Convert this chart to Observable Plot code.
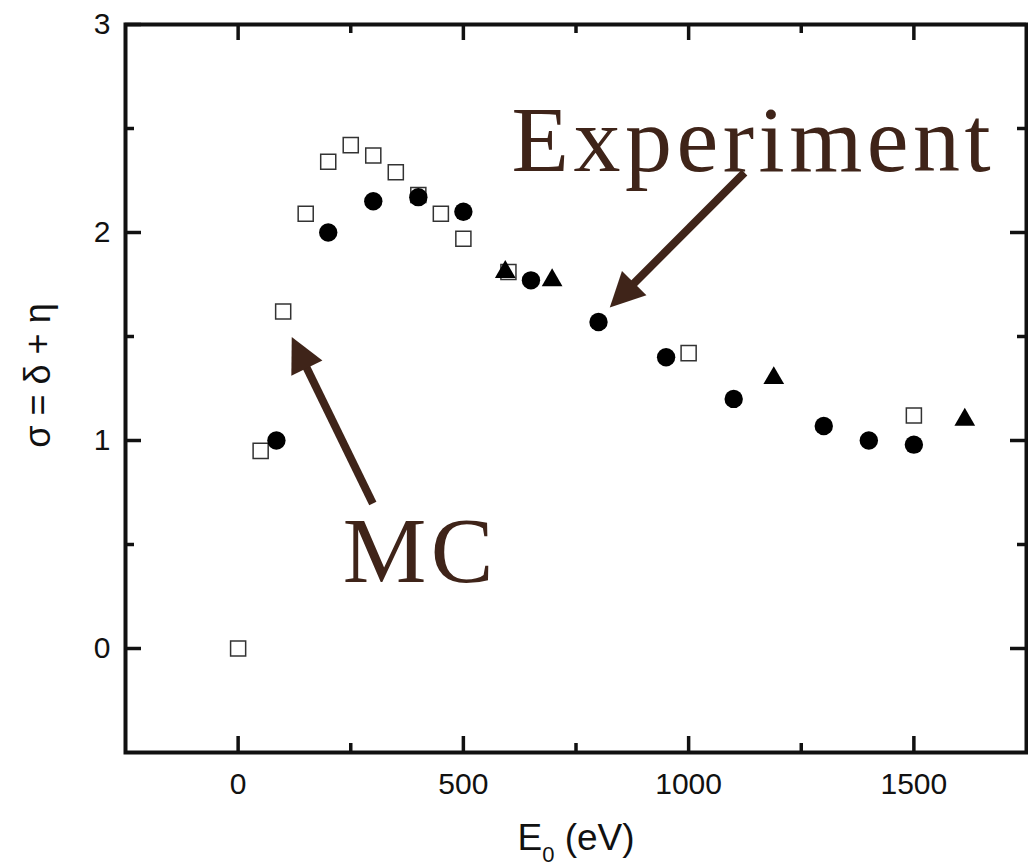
<!DOCTYPE html>
<html><head><meta charset="utf-8">
<script src="https://cdn.jsdelivr.net/npm/d3@7"></script>
<script src="https://cdn.jsdelivr.net/npm/@observablehq/plot@0.6"></script>
<style>body{margin:0;background:#fff}</style>
</head><body><div id="chart"></div>
<script>
// ---- data ----
const energyMC = [0, 50, 100, 150, 200, 250, 300, 350, 400, 450, 500, 600, 1000, 1500];
const sigmaMC  = [0, 0.95, 1.62, 2.09, 2.34, 2.42, 2.37, 2.29, 2.18, 2.09, 1.97, 1.81, 1.42, 1.12];
const energyExp = [85, 200, 300, 400, 500, 650, 800, 950, 1100, 1300, 1400, 1500];
const sigmaExp  = [1.00, 2.00, 2.15, 2.17, 2.10, 1.77, 1.57, 1.40, 1.20, 1.07, 1.00, 0.98];
const energyTri = [593, 697, 1189, 1613];
const sigmaTri  = [1.81, 1.77, 1.30, 1.10];

const xMajorTicks = [0, 500, 1000, 1500];
const xMinorTicks = [250, 750, 1250];
const yMajorTicks = [0, 1, 2, 3];
const yMinorTicks = [0.5, 1.5, 2.5];
const xLabel = "E0 (eV)";
const yLabel = "σ = δ + η";

const annotationText = ["Experiment", "MC"];
const annotationX = [607, 232];
const annotationY = [2.298, 0.322];
const arrowFromX = [1124, 299];
const arrowFromY = [2.288, 0.697];
const arrowToX = [825, 119];
const arrowToY = [1.639, 1.497];

// ---- layout ----
const W = 1028, H = 868, mL = 125, mR = 2, mT = 24, mB = 116;
const xDomain = [-250, 1750], yDomain = [-0.5, 3];
const innerW = W - mL - mR, innerH = H - mT - mB;
const brown = "#3f2419";
const ink = "#111";

const mc = energyMC.map((x, i) => ({x, y: sigmaMC[i]}));
const exp = energyExp.map((x, i) => ({x, y: sigmaExp[i]}));
const tri = energyTri.map((x, i) => ({x, y: sigmaTri[i]}));
const notes = annotationText.map((t, i) => ({t, x: annotationX[i], y: annotationY[i]}));

const sx = d3.scaleLinear(xDomain, [mL, W - mR]);
const sy = d3.scaleLinear(yDomain, [H - mB, mT]);
const arrows = arrowFromX.map((_, i) => {
  const a = {x1: arrowFromX[i], y1: arrowFromY[i], x2: arrowToX[i], y2: arrowToY[i]};
  a.rot = Math.atan2(sy(a.y2) - sy(a.y1), sx(a.x2) - sx(a.x1)) * 180 / Math.PI + 90;
  return a;
});

// filled arrow head, apex at the origin pointing up
const headSymbol = {
  draw(ctx, size) {
    const L = Math.sqrt(size);
    ctx.moveTo(0, 0);
    ctx.lineTo(-0.5 * L, L);
    ctx.lineTo(0.5 * L, L);
    ctx.closePath();
  }
};

const major = 16, minor = 9;
const plot = Plot.plot({
  width: W, height: H,
  marginLeft: mL, marginRight: mR, marginTop: mT, marginBottom: mB,
  x: {domain: xDomain, axis: null},
  y: {domain: yDomain, axis: null},
  style: {fontFamily: "Liberation Sans, Arial, sans-serif", background: "white", overflow: "visible"},
  marks: [
    // ticks (inward, on all four sides)
    Plot.ruleX(xMajorTicks, {x: d => d, insetTop: innerH - major, stroke: ink, strokeWidth: 3.5}),
    Plot.ruleX(xMajorTicks, {x: d => d, insetBottom: innerH - major, stroke: ink, strokeWidth: 3.5}),
    Plot.ruleX(xMinorTicks, {x: d => d, insetTop: innerH - minor, stroke: ink, strokeWidth: 3.5}),
    Plot.ruleX(xMinorTicks, {x: d => d, insetBottom: innerH - minor, stroke: ink, strokeWidth: 3.5}),
    Plot.ruleY(yMajorTicks, {y: d => d, insetRight: innerW - major, stroke: ink, strokeWidth: 3.5}),
    Plot.ruleY(yMajorTicks, {y: d => d, insetLeft: innerW - major, stroke: ink, strokeWidth: 3.5}),
    Plot.ruleY(yMinorTicks, {y: d => d, insetRight: innerW - minor, stroke: ink, strokeWidth: 3.5}),
    Plot.ruleY(yMinorTicks, {y: d => d, insetLeft: innerW - minor, stroke: ink, strokeWidth: 3.5}),
    Plot.frame({stroke: ink, strokeWidth: 4}),
    // tick labels
    Plot.text(xMajorTicks, {x: d => d, text: d => String(d), frameAnchor: "bottom", textAnchor: "middle", lineAnchor: "top", dy: 20, fontSize: 30, fill: ink}),
    Plot.text(yMajorTicks, {y: d => d, text: d => String(d), frameAnchor: "left", textAnchor: "end", dx: -15, fontSize: 30, fill: ink}),
    // axis labels
    Plot.text([xLabel], {text: d => d, frameAnchor: "bottom", textAnchor: "middle", lineAnchor: "bottom", dy: 97, fontSize: 37, fill: ink}),
    Plot.text([yLabel], {text: d => d, frameAnchor: "left", textAnchor: "middle", lineAnchor: "bottom", rotate: -90, dx: -76, dy: -13, fontSize: 36, fill: ink}),
    // data
    Plot.dot(mc, {x: "x", y: "y", symbol: "square", r: 8.5, fill: "white", stroke: "#333", strokeWidth: 1.5}),
    Plot.dot(exp, {x: "x", y: "y", symbol: "circle", r: 9.2, fill: "black", stroke: "none"}),
    Plot.dot(tri, {x: "x", y: "y", symbol: "triangle", r: 7.7, fill: "black", stroke: "none"}),
    // annotations
    Plot.arrow(arrows, {x1: "x1", y1: "y1", x2: "x2", y2: "y2", insetEnd: 24, headLength: 0, stroke: brown, strokeWidth: 8, strokeLinecap: "butt"}),
    Plot.dot(arrows, {x: "x2", y: "y2", symbol: headSymbol, r: 19.5, rotate: "rot", fill: brown, stroke: "none"}),
    Plot.text(notes, {x: "x", y: "y", text: "t", textAnchor: "start", lineAnchor: "bottom", fontSize: 94, fontFamily: "Liberation Serif, DejaVu Serif, serif", fill: brown})
  ]
});

const svg = d3.select(plot);
svg.selectAll("text").filter(function() { return annotationText.includes(this.textContent); })
  .style("letter-spacing", "4.5px");
svg.selectAll("text").filter(function() { return this.textContent === xLabel; })
  .each(function() {
    const t = d3.select(this);
    t.text("");
    t.append("tspan").text("E");
    t.append("tspan").attr("font-size", 22).attr("dy", 12).text("0");
    t.append("tspan").attr("dy", -12).text(" (eV)");
  });
document.getElementById("chart").appendChild(plot);
</script>
</body></html>
